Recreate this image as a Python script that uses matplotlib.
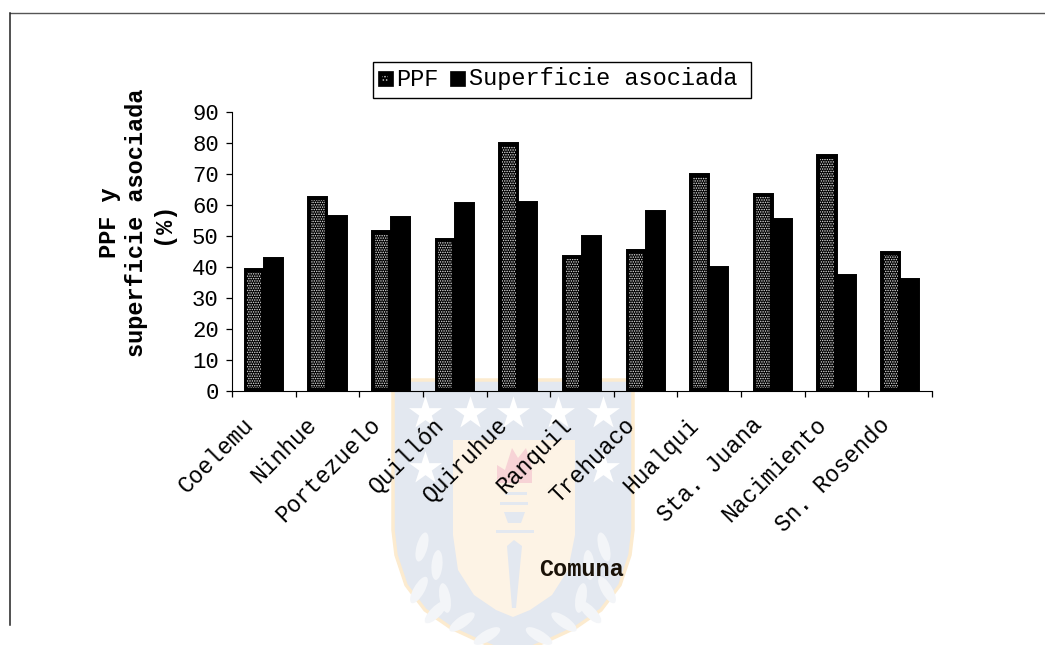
import matplotlib
matplotlib.use('Agg')
import matplotlib.pyplot as plt
import numpy as np
from matplotlib.patches import Polygon, Rectangle, Ellipse

comunas = ["Coelemu", "Ninhue", "Portezuelo", "Quillón", "Quiruhue", "Ranquil", "Trehuaco",
           "Hualqui", "Sta. Juana", "Nacimiento", "Sn. Rosendo"]
ppf = [39.5, 62.5, 51.5, 49, 80, 43.5, 45.5, 70, 63.5, 76, 45]
superficie = [43, 56.5, 56, 60.5, 61, 50, 58, 40, 55.5, 37.5, 36]
yticks = [0, 10, 20, 30, 40, 50, 60, 70, 80, 90]

W, H = 1045, 645
plt.rcParams['font.family'] = ['Liberation Mono', 'DejaVu Sans Mono']
plt.rcParams['hatch.linewidth'] = 0.7

fig = plt.figure(figsize=(W / 100, H / 100), dpi=100, facecolor='white')

# background layer in pixel coordinates: page frame and the shield
bg = fig.add_axes([0, 0, 1, 1], zorder=0)
bg.set_xlim(0, W)
bg.set_ylim(H, 0)
bg.axis('off')

blue = '#e3e8f0'
cream = '#fdf3e5'
leaf = '#f3f5f8'
shield_x = [393, 633, 633, 630, 620, 601, 575, 549, 513, 477, 451, 425, 406, 396, 393]
shield_y = [380, 380, 530, 555, 585, 610, 628, 640, 655, 640, 628, 610, 585, 555, 530]
bg.add_patch(Polygon(np.column_stack([shield_x, shield_y]), facecolor=blue, edgecolor='#fcebcf', lw=2.5))
panel_x = [453, 575, 575, 568, 552, 530, 513, 496, 474, 458, 453]
panel_y = [440, 440, 535, 570, 595, 610, 617, 610, 595, 570, 535]
bg.add_patch(Polygon(np.column_stack([panel_x, panel_y]), facecolor=cream, edgecolor='none'))

# stars
star_x = [425, 470, 513, 558, 603, 425, 603]
star_y = [413, 413, 413, 413, 413, 468, 468]
bg.scatter(star_x, star_y, marker='*', s=620, c='white', linewidths=0)

# torch
bg.add_patch(Polygon([(497, 483), (497, 465), (505, 470), (512, 448), (518, 458), (526, 448), (532, 468), (532, 483)],
                     facecolor='#f7d3d6', edgecolor='none'))
for y0, x0, x1 in [(492, 505, 527), (502, 500, 528), (530, 496, 534)]:
    bg.add_patch(Rectangle((x0, y0), x1 - x0, 3, facecolor=blue, edgecolor='none'))
bg.add_patch(Polygon([(504, 512), (525, 512), (521, 523), (508, 523)], facecolor=blue, edgecolor='none'))
bg.add_patch(Polygon([(507, 546), (514, 540), (522, 546), (516, 608), (512, 608)], facecolor=blue, edgecolor='none'))

# laurel leaves either side of the panel
leaves = [(422, 547, 15), (437, 565, 5), (419, 590, 30), (445, 598, -10), (436, 612, 45), (462, 622, 55), (487, 636, 60)]
for lx, ly, ang in leaves:
    bg.add_patch(Ellipse((lx, ly), 11, 30, angle=ang, facecolor=leaf, edgecolor='none'))
    bg.add_patch(Ellipse((2 * 513 - lx, ly), 11, 30, angle=-ang, facecolor=leaf, edgecolor='none'))

# page frame, open at the bottom and on the right
bg.plot([10, W], [13, 13], color='#555555', lw=1)
bg.plot([10, 10], [13, 625], color='#222222', lw=1.1)

# chart axes
ax = fig.add_axes([232 / W, 1 - 391 / H, (932 - 232) / W, (391 - 112) / H], zorder=1)
ax.patch.set_alpha(0)

x = np.arange(len(comunas))
width = 0.30
ax.bar(x + width / 2, superficie, width, facecolor='black', edgecolor='black', linewidth=1.4)
ax.bar(x - width / 2, ppf, width, facecolor='black', edgecolor='black', linewidth=1.4)
# speckled core of the PPF bars
ax.bar(x - width / 2, np.array(ppf) - 2, width * 0.72, bottom=1, facecolor='none',
       edgecolor='#e4e4e4', hatch='.......', linewidth=0)

ax.set_xlim(-0.5, len(comunas) - 0.5)
ax.set_ylim(0, 90)
ax.set_yticks(yticks)
ax.set_xticks(np.arange(len(comunas) + 1) - 0.5)
ax.set_xticklabels([])
ax.tick_params(axis='y', direction='out', length=4.5, width=0.9, labelsize=16, pad=5)
ax.tick_params(axis='x', direction='out', length=4.5, width=0.9)
for s in ['top', 'right']:
    ax.spines[s].set_visible(False)

# rotated category names, right-anchored under each group
for i, name in enumerate(comunas):
    ax.annotate(name, xy=(i, 0), xycoords=('data', 'axes fraction'), xytext=(-16, -16),
                textcoords='offset points', rotation=45, rotation_mode='anchor',
                ha='right', va='top', fontsize=16.5)

fig.text(136 / W, 1 - 223 / H, "PPF y\nsuperficie asociada\n(%)", rotation=90, ha='center', va='center',
         fontsize=17, fontweight='bold', linespacing=1.2, multialignment='center')
fig.text(581 / W, 1 - 569 / H, "Comuna", ha='center', va='center', fontsize=17, fontweight='bold', color='#1a1208')

# legend box
leg_ax = fig.add_axes([0, 0, 1, 1], zorder=2)
leg_ax.set_xlim(0, W)
leg_ax.set_ylim(H, 0)
leg_ax.axis('off')
leg_ax.add_patch(Rectangle((373, 62), 378, 36, facecolor='white', edgecolor='black', lw=1))
leg_ax.add_patch(Rectangle((378, 71), 15, 15, facecolor='black', edgecolor='black', lw=0.5))
leg_ax.add_patch(Rectangle((382, 75), 6, 6, facecolor='none', edgecolor='#cccccc', hatch='.....', lw=0))
leg_ax.text(396, 79, "PPF", va='center', ha='left', fontsize=17)
leg_ax.add_patch(Rectangle((450, 71), 15, 15, facecolor='black', edgecolor='black', lw=0.5))
leg_ax.text(469, 79, "Superficie asociada", va='center', ha='left', fontsize=17)

fig.savefig('out.png', dpi=100)
